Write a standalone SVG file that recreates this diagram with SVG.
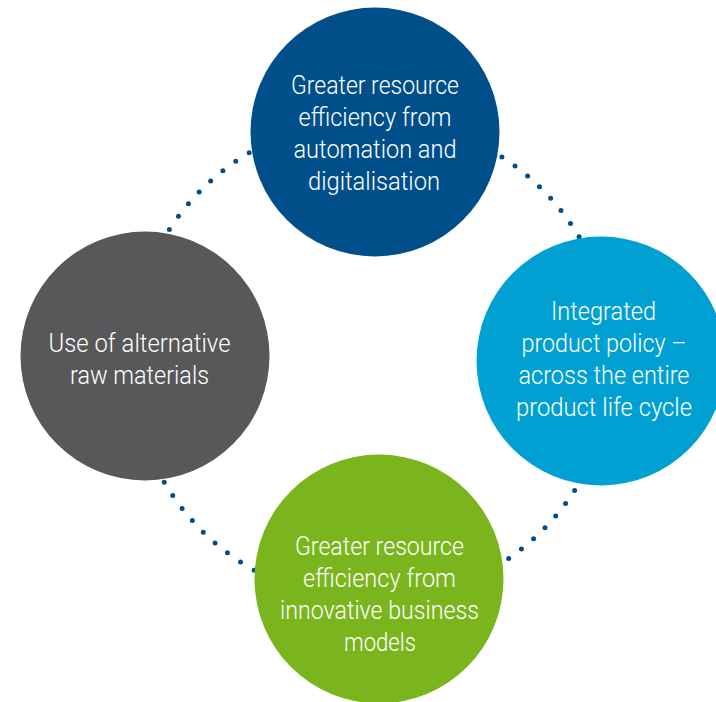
<svg xmlns="http://www.w3.org/2000/svg" width="716" height="702" viewBox="0 0 716 702">
<style>
.dots{fill:none;stroke:#004f8b;stroke-width:5;stroke-linecap:round}
.lbl{font-family:Roboto,"Open Sans","Liberation Sans",sans-serif;font-weight:300;font-size:25.5px;fill:#ffffff;text-anchor:middle}
</style>
<rect width="716" height="702" fill="#ffffff"/>
<g id="connectors">
<path class="dots" d="M169.4,229.4 A241,241 0 0 1 249.3,152.6" stroke-dasharray="0 15.95"/>
<path class="dots" d="M501.9,157 A241,241 0 0 1 579.2,237" stroke-dasharray="0 16"/>
<path class="dots" d="M574.6,490.5 A241,241 0 0 1 508.5,558.6" stroke-dasharray="0 15.88"/>
<path class="dots" d="M254.1,570.2 A241,241 0 0 1 164.1,481.9" stroke-dasharray="0 15.9"/>
</g>
<g id="node-automation">
<circle cx="375" cy="132" r="124.5" fill="#004f8b"/>
<text class="lbl" x="375" y="94" textLength="168" lengthAdjust="spacingAndGlyphs">Greater resource</text>
<text class="lbl" x="375" y="126" textLength="153" lengthAdjust="spacingAndGlyphs">efficiency from</text>
<text class="lbl" x="375" y="158" textLength="163" lengthAdjust="spacingAndGlyphs">automation and</text>
<text class="lbl" x="374" y="190" textLength="132" lengthAdjust="spacingAndGlyphs">digitalisation</text>
</g>
<g id="node-product-policy">
<circle cx="601" cy="361" r="124.5" fill="#00a0d2"/>
<text class="lbl" x="603.5" y="320" textLength="105" lengthAdjust="spacingAndGlyphs">Integrated</text>
<text class="lbl" x="604" y="352" textLength="165" lengthAdjust="spacingAndGlyphs">product policy –</text>
<text class="lbl" x="604" y="384" textLength="171" lengthAdjust="spacingAndGlyphs">across the entire</text>
<text class="lbl" x="604" y="416" textLength="176" lengthAdjust="spacingAndGlyphs">product life cycle</text>
</g>
<g id="node-raw-materials">
<circle cx="145" cy="356" r="124.5" fill="#58585a"/>
<text class="lbl" x="139.5" y="352" textLength="182" lengthAdjust="spacingAndGlyphs">Use of alternative</text>
<text class="lbl" x="139.5" y="384" textLength="139" lengthAdjust="spacingAndGlyphs">raw materials</text>
</g>
<g id="node-business-models">
<circle cx="379" cy="579" r="124.5" fill="#7ab51d"/>
<text class="lbl" x="379.5" y="555" textLength="169" lengthAdjust="spacingAndGlyphs">Greater resource</text>
<text class="lbl" x="379.5" y="587" textLength="153" lengthAdjust="spacingAndGlyphs">efficiency from</text>
<text class="lbl" x="379.5" y="619" textLength="199" lengthAdjust="spacingAndGlyphs">innovative business</text>
<text class="lbl" x="380" y="651" textLength="72" lengthAdjust="spacingAndGlyphs">models</text>
</g>
</svg>
